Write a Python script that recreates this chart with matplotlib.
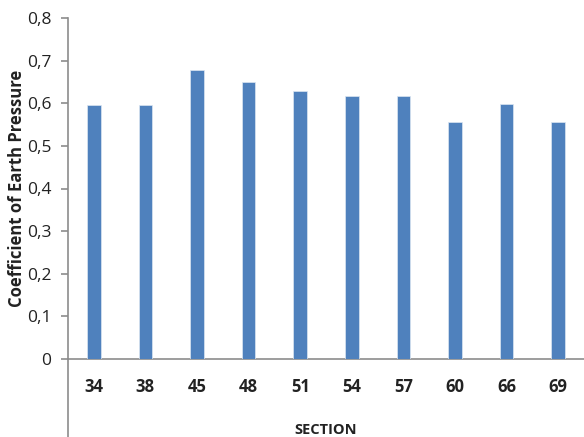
import matplotlib.pyplot as plt
from matplotlib.lines import Line2D

# Datos
secciones = ["34", "38", "45", "48", "51", "54", "57", "60", "66", "69"]
coeficientes = [0.595, 0.595, 0.677, 0.651, 0.628, 0.617, 0.617, 0.557, 0.598, 0.557]
yticks = [0, 0.1, 0.2, 0.3, 0.4, 0.5, 0.6, 0.7, 0.8]
ytick_labels = ["0", "0,1", "0,2", "0,3", "0,4", "0,5", "0,6", "0,7", "0,8"]

plt.rcParams['font.family'] = ['Open Sans', 'DejaVu Sans']

gris = "#8c8c8c"
texto = "#222222"

fig = plt.figure(figsize=(5.84, 4.37), dpi=100)
ax = fig.add_axes([68 / 584, 78 / 437, 1 - 68 / 584, 341 / 437])

x = list(range(len(secciones)))
ax.bar(x, coeficientes, width=0.26, color="#4F81BD", edgecolor="#dce6f2", linewidth=0.5, zorder=3)

ax.set_xlim(-0.5, len(secciones) - 0.5)
ax.set_ylim(0, 0.8)
ax.set_yticks(yticks)
ax.set_yticklabels(ytick_labels, fontsize=12.5, color=texto)
ax.set_xticks(x)
ax.set_xticklabels(secciones, fontsize=12, fontweight="bold", color=texto)

ax.tick_params(axis="y", length=5, width=1.2, color=gris, pad=7, direction="out")
ax.tick_params(axis="x", length=0, pad=14)

for lado in ["top", "right"]:
    ax.spines[lado].set_visible(False)
ax.spines["left"].set_color(gris)
ax.spines["bottom"].set_color(gris)
ax.spines["left"].set_linewidth(1.2)
ax.spines["bottom"].set_linewidth(1.2)

# Prolongación del eje vertical hacia abajo (estilo Excel)
fig.add_artist(Line2D([68 / 584, 68 / 584], [0, 78 / 437], color=gris, linewidth=1.2))

ax.set_xlabel("SECTION", fontsize=10.5, fontweight="bold", color=texto, labelpad=19)
ax.set_ylabel("Coefficient of Earth Pressure", fontsize=12, fontweight="bold", color=texto)
ax.yaxis.set_label_coords(-0.082, 0.5)

fig.savefig("out.png", dpi=100)
